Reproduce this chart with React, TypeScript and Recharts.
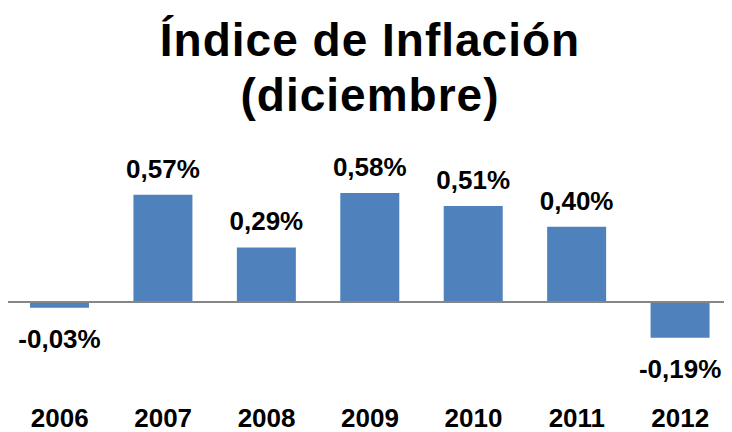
import React from "react";
import { BarChart, Bar, XAxis, YAxis, ReferenceLine, LabelList } from "recharts";

const years = ["2006", "2007", "2008", "2009", "2010", "2011", "2012"];
const inflation = [-0.03, 0.57, 0.29, 0.58, 0.51, 0.4, -0.19];

const titleLines = ["Índice de Inflación", "(diciembre)"];

const data = years.map((year, i) => ({ year, value: inflation[i] }));

const FONT = '"Liberation Sans", Arial, sans-serif';

const formatPct = (v: number) => v.toFixed(2).replace(".", ",") + "%";

const ValueLabel = (props: any) => {
  const { x, y, width, height, value } = props;
  const top = Math.min(y, y + height);
  const bottom = Math.max(y, y + height);
  const cx = x + width / 2;
  const ty = value >= 0 ? top - 17 : bottom + 40;
  return (
    <text
      x={cx}
      y={ty}
      textAnchor="middle"
      fontFamily={FONT}
      fontWeight={700}
      fontSize={26}
      fill="#000"
    >
      {formatPct(value)}
    </text>
  );
};

const YearTick = (props: any) => {
  const { x, payload } = props;
  return (
    <text
      x={x}
      y={419}
      textAnchor="middle"
      fontFamily={FONT}
      fontWeight={700}
      fontSize={26}
      fill="#000"
    >
      {payload.value}
    </text>
  );
};

export default function App() {
  return (
    <div style={{ position: "relative", width: 724, height: 424 }}>
      <div
        style={{
          position: "absolute",
          top: 4.6,
          left: 0,
          width: 724,
          textAlign: "center",
          fontFamily: FONT,
          fontWeight: 700,
          fontSize: 46,
          lineHeight: "55px",
          letterSpacing: 1,
          color: "#000",
        }}
      >
        {titleLines.map((t) => (
          <div key={t}>{t}</div>
        ))}
      </div>
      <BarChart
        width={724}
        height={424}
        data={data}
        margin={{ top: 162.4, right: 0, bottom: 24.8, left: 0 }}
      >
        <XAxis
          dataKey="year"
          axisLine={false}
          tickLine={false}
          height={30}
          tick={<YearTick />}
          interval={0}
        />
        <YAxis hide domain={[-0.4, 0.7]} allowDataOverflow />
        <ReferenceLine y={0} stroke="#868686" strokeWidth={2} />
        <Bar dataKey="value" fill="#4F81BD" barSize={59} isAnimationActive={false}>
          <LabelList dataKey="value" content={<ValueLabel />} />
        </Bar>
      </BarChart>
    </div>
  );
}
